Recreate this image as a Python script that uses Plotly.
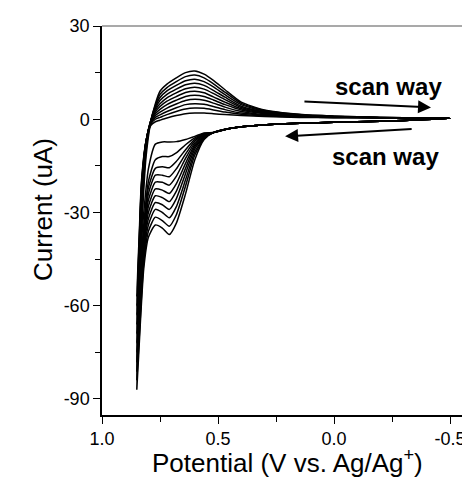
import plotly.graph_objects as go

# Potential grids (V vs. Ag/Ag+)
# lower branch: scanned from -0.5 V up to 0.85 V
V_LOW = [-0.50, -0.30, -0.10, 0.10, 0.30, 0.45, 0.52, 0.56, 0.60, 0.64,
         0.68, 0.71, 0.74, 0.77, 0.80, 0.82, 0.835, 0.85]
# upper branch: scanned back from 0.85 V to -0.5 V
V_UP = [0.85, 0.84, 0.83, 0.81, 0.79, 0.77, 0.75, 0.72, 0.68, 0.64, 0.60,
        0.56, 0.52, 0.47, 0.40, 0.30, 0.15, 0.00, -0.20, -0.40, -0.50]

# Current (uA) on the lower branch, one list per cycle
I_LOW = [
    [0.3, -0.4, -0.8, -1.2, -1.8, -3.0, -4.3, -6.5, -13.0, -24.0, -33.5, -37.1, -35.0, -34.0, -38.0, -48.0, -66.0, -87.0],
    [0.3, -0.4, -0.8, -1.2, -1.8, -3.0, -4.3, -6.2, -11.5, -21.5, -30.8, -34.4, -32.6, -31.5, -36.0, -46.0, -64.0, -84.0],
    [0.3, -0.4, -0.8, -1.2, -1.8, -3.0, -4.3, -6.0, -10.5, -19.5, -28.2, -31.7, -30.0, -29.0, -34.0, -44.0, -62.0, -81.0],
    [0.3, -0.4, -0.8, -1.2, -1.8, -3.0, -4.3, -5.8, -9.5, -17.5, -25.6, -29.0, -27.5, -26.8, -32.0, -42.0, -60.0, -78.0],
    [0.3, -0.4, -0.8, -1.2, -1.8, -3.0, -4.3, -5.6, -8.8, -15.8, -23.2, -26.5, -25.2, -24.6, -30.0, -41.0, -58.0, -75.0],
    [0.3, -0.4, -0.8, -1.2, -1.8, -3.0, -4.3, -5.4, -8.2, -14.2, -20.8, -23.9, -22.8, -22.4, -28.0, -40.0, -56.0, -72.0],
    [0.3, -0.4, -0.8, -1.2, -1.8, -3.0, -4.3, -5.2, -7.6, -12.6, -18.4, -21.2, -20.3, -20.2, -26.0, -39.0, -54.0, -69.0],
    [0.3, -0.4, -0.8, -1.2, -1.8, -3.0, -4.3, -5.0, -7.0, -11.2, -16.0, -18.5, -18.0, -18.0, -24.0, -38.0, -52.0, -66.0],
    [0.3, -0.4, -0.8, -1.2, -1.8, -3.0, -4.3, -4.8, -6.5, -9.8, -13.6, -15.6, -15.3, -15.8, -22.0, -36.0, -50.0, -63.0],
    [0.3, -0.4, -0.8, -1.2, -1.8, -3.0, -4.3, -4.6, -6.0, -8.2, -10.8, -12.0, -12.0, -13.0, -20.0, -34.0, -48.0, -60.0],
    [0.3, -0.4, -0.8, -1.2, -1.8, -3.0, -4.3, -4.4, -5.5, -6.5, -7.2, -7.3, -7.3, -8.0, -16.0, -30.0, -44.0, -57.0],
]

# Current (uA) on the upper branch, one list per cycle
I_UP = [
    [-87, -62, -38, -12, -1.0, 5.0, 9.0, 11.3, 13.3, 15.0, 15.5, 14.5, 12.5, 9.5, 5.5, 3.0, 1.6, 1.0, 0.6, 0.4, 0.3],
    [-84, -58, -34, -10, -0.5, 4.5, 8.0, 10.2, 12.1, 13.7, 14.2, 13.3, 11.4, 8.7, 5.1, 2.8, 1.5, 1.0, 0.6, 0.4, 0.3],
    [-81, -55, -31, -9, -0.5, 4.0, 7.0, 9.1, 10.9, 12.4, 12.9, 12.1, 10.4, 7.9, 4.7, 2.6, 1.4, 0.9, 0.6, 0.4, 0.3],
    [-78, -52, -28, -8, -0.5, 3.5, 6.0, 8.0, 9.7, 11.1, 11.6, 10.9, 9.3, 7.1, 4.2, 2.4, 1.3, 0.9, 0.6, 0.4, 0.3],
    [-75, -49, -26, -7.5, -0.5, 3.0, 5.0, 6.9, 8.5, 9.8, 10.3, 9.7, 8.3, 6.3, 3.8, 2.2, 1.2, 0.8, 0.5, 0.4, 0.3],
    [-72, -47, -25, -7, -0.8, 2.4, 4.1, 5.8, 7.3, 8.6, 9.0, 8.5, 7.2, 5.5, 3.4, 2.0, 1.1, 0.8, 0.5, 0.4, 0.3],
    [-69, -45, -24, -7, -1.0, 1.8, 3.2, 4.7, 6.1, 7.3, 7.7, 7.3, 6.2, 4.7, 3.0, 1.8, 1.0, 0.7, 0.5, 0.4, 0.3],
    [-66, -43, -23, -7, -1.2, 1.2, 2.3, 3.6, 4.9, 6.0, 6.4, 6.1, 5.2, 3.9, 2.5, 1.5, 0.9, 0.7, 0.5, 0.4, 0.3],
    [-63, -41, -22, -7, -1.4, 0.6, 1.4, 2.5, 3.7, 4.7, 5.0, 4.8, 4.1, 3.1, 2.0, 1.3, 0.8, 0.6, 0.5, 0.4, 0.3],
    [-60, -40, -21, -7, -1.6, 0.0, 0.6, 1.5, 2.5, 3.3, 3.6, 3.5, 3.0, 2.3, 1.6, 1.1, 0.7, 0.6, 0.5, 0.4, 0.3],
    [-57, -38, -20, -7, -2.0, -0.8, -0.3, 0.4, 1.2, 1.8, 2.0, 2.0, 1.8, 1.5, 1.2, 0.9, 0.6, 0.5, 0.4, 0.4, 0.3],
]

X_TICKS = [1.0, 0.5, 0.0, -0.5]
X_TICKTEXT = ["1.0", "0.5", "0.0", "-0.5"]
X_MINOR = [0.75, 0.25, -0.25]
Y_TICKS = [30, 0, -30, -60, -90]
Y_TICKTEXT = ["30", "0", "-30", "-60", "-90"]
Y_MINOR = [15, -15, -45, -75]

FONT = "Liberation Sans, Arial, sans-serif"

fig = go.Figure()
for lo, up in zip(I_LOW, I_UP):
    fig.add_trace(go.Scatter(
        x=V_LOW + V_UP[1:],
        y=lo + up[1:],
        mode="lines",
        line=dict(color="black", width=1.5, shape="spline", smoothing=0.6),
        showlegend=False,
        hoverinfo="skip",
    ))

# scan direction arrows
fig.add_annotation(x=-0.418, y=3.8, ax=0.134, ay=5.7, xref="x", yref="y",
                   axref="x", ayref="y", text="", showarrow=True,
                   arrowhead=2, arrowsize=1.3, arrowwidth=2, arrowcolor="black")
fig.add_annotation(x=0.211, y=-5.5, ax=-0.341, ay=-3.1, xref="x", yref="y",
                   axref="x", ayref="y", text="", showarrow=True,
                   arrowhead=2, arrowsize=1.3, arrowwidth=2, arrowcolor="black")
fig.add_annotation(x=-0.235, y=10.5, xref="x", yref="y", text="<b>scan way</b>",
                   showarrow=False, font=dict(family=FONT, size=24, color="black"))
fig.add_annotation(x=-0.22, y=-12.0, xref="x", yref="y", text="<b>scan way</b>",
                   showarrow=False, font=dict(family=FONT, size=24, color="black"))

# axis titles
fig.add_annotation(x=-0.2065, y=0.527, xref="paper", yref="paper",
                   text="Current (uA)", textangle=-90, showarrow=False,
                   font=dict(family=FONT, size=26, color="black"))
fig.add_annotation(x=0.505, y=-0.168, xref="paper", yref="paper",
                   text="Potential (V vs. Ag/Ag<sup>+</sup>)", showarrow=False,
                   font=dict(family=FONT, size=26, color="black"))

# thin grey frame line on top
fig.add_shape(type="line", xref="paper", yref="paper", x0=0, x1=1, y0=1, y1=1,
              line=dict(color="#555555", width=1.2))

fig.update_xaxes(
    range=[1.0, -0.586], automargin=False,
    tickmode="array", tickvals=X_TICKS, ticktext=X_TICKTEXT,
    ticks="outside", ticklen=7, tickwidth=1.3, tickcolor="black",
    minor=dict(tickvals=X_MINOR, ticks="outside", ticklen=5, tickwidth=1.3, tickcolor="black"),
    showline=True, linecolor="black", linewidth=1.5,
    showgrid=False, zeroline=False,
    tickfont=dict(family=FONT, size=18, color="black"),
)
fig.update_yaxes(
    range=[-95.15, 30], automargin=False,
    tickmode="array", tickvals=Y_TICKS, ticktext=Y_TICKTEXT,
    ticks="outside", ticklen=7, tickwidth=1.3, tickcolor="black",
    minor=dict(tickvals=Y_MINOR, ticks="outside", ticklen=5, tickwidth=1.3, tickcolor="black"),
    showline=True, linecolor="black", linewidth=1.5,
    showgrid=False, zeroline=False,
    tickfont=dict(family=FONT, size=18, color="black"),
)

# the page body adds an 8 px offset, so the figure is 8 px smaller
fig.update_layout(
    width=462, height=486,
    margin=dict(l=94, r=0, t=18, b=79),
    paper_bgcolor="white", plot_bgcolor="white",
)

fig.write_html("out.html")
